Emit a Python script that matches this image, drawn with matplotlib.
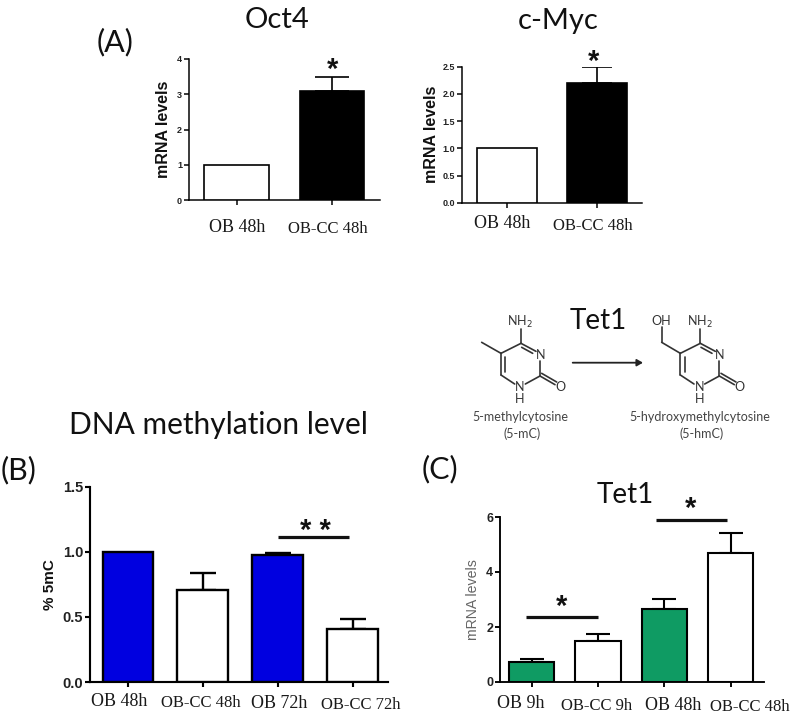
import matplotlib
matplotlib.use('Agg')
import matplotlib.pyplot as plt

W, H = 800, 717

oct4_labels = ['OB 48h', 'OB-CC 48h']
oct4_vals = [1.0, 3.08]
oct4_tops = [1.0, 3.5]
oct4_ticks = [0, 1, 2, 3, 4]
oct4_ticklabels = ['0', '1', '2', '3', '4']

myc_labels = ['OB 48h', 'OB-CC 48h']
myc_vals = [1.0, 2.2]
myc_tops = [1.0, 2.5]
myc_ticks = [0, 0.5, 1.0, 1.5, 2.0, 2.5]
myc_ticklabels = ['0.0', '0.5', '1.0', '1.5', '2.0', '2.5']

dna_labels = ['OB 48h', 'OB-CC 48h', 'OB 72h', 'OB-CC 72h']
dna_vals = [1.0, 0.71, 0.975, 0.41]
dna_tops = [1.0, 0.84, 0.99, 0.485]
dna_ticks = [0, 0.5, 1.0, 1.5]
dna_ticklabels = ['0.0', '0.5', '1.0', '1.5']

tet_labels = ['OB 9h', 'OB-CC 9h', 'OB 48h', 'OB-CC 48h']
tet_vals = [0.73, 1.5, 2.65, 4.7]
tet_tops = [0.85, 1.75, 3.03, 5.42]
tet_ticks = [0, 2, 4, 6]
tet_ticklabels = ['0', '2', '4', '6']

GREEN = '#0f9b63'
BLUE = '#0000e0'


def make_axes(fig, left, right, top, bottom):
    # pixel box to figure fractions
    return fig.add_axes([left / W, 1 - bottom / H, (right - left) / W, (bottom - top) / H])


def bar_panel(ax, vals, tops, colors, ticks, ticklabels, ymax, xlim, width, lw, cap,
              tick_size, ylabel, ylabel_size, ylabel_weight='bold', ylabel_color='#111111',
              labelpad=4):
    xs = list(range(len(vals)))
    ax.bar(xs, vals, width=width, color=colors, edgecolor='black', linewidth=lw, zorder=3)
    # bars with no spread have no whisker
    for x, v, t in zip(xs, vals, tops):
        if t > v:
            ax.errorbar([x], [v], yerr=[[0], [t - v]], fmt='none', ecolor='black',
                        elinewidth=lw, capsize=cap, capthick=lw, zorder=2)
    ax.set_xlim(*xlim)
    ax.set_ylim(0, ymax)
    ax.set_xticks(xs)
    ax.set_xticklabels([])
    ax.set_yticks(ticks)
    ax.set_yticklabels(ticklabels, fontsize=tick_size, fontweight='bold',
                       family='Liberation Sans', color='#222222')
    ax.tick_params(width=lw * 0.9, length=3.5, pad=1.5)
    for s in ['top', 'right']:
        ax.spines[s].set_visible(False)
    for s in ['left', 'bottom']:
        ax.spines[s].set_linewidth(lw * 0.9)
    ax.set_ylabel(ylabel, fontsize=ylabel_size, fontweight=ylabel_weight,
                  family='Liberation Sans', color=ylabel_color, labelpad=labelpad)
    ax.patch.set_alpha(0)


def xlabels(ov, labels, xs, ys, sizes):
    for lab, x, y, s in zip(labels, xs, ys, sizes):
        ov.text(x, y, lab, family='Liberation Serif', fontsize=s, ha='center', va='center',
                color='#1a1a1a')


def title(ov, x, y, txt, size):
    ov.text(x, y, txt, family='Lato', fontsize=size, ha='center', va='center', color='#111111')


def star(ov, x, y, txt='*', size=21):
    ov.text(x, y, txt, family='Liberation Sans', fontsize=size, fontweight='bold',
            ha='center', va='center', color='#111111')


def draw_mol(ov, dx, hydroxy):
    # ring traced in zoom coordinates of the picture, 3x around (440, 290)
    def seg(x0, y0, x1, y1):
        ov.plot([440 + (x0 + dx) / 3, 440 + (x1 + dx) / 3],
                [290 + y0 / 3, 290 + y1 / 3], color='#333333', lw=1.2, solid_capstyle='round')

    def lab(x, y, s, size=9):
        ov.text(440 + (x + dx) / 3, 290 + y / 3, s, family='Lato', fontsize=size,
                ha='center', va='center', color='#333333')

    seg(243, 160, 288, 184)
    seg(245, 172, 278, 190)
    seg(300, 212, 300, 258)
    seg(300, 258, 256, 282)
    seg(224, 282, 183, 255)
    seg(183, 255, 183, 190)
    seg(196, 245, 196, 200)
    seg(183, 190, 243, 160)
    seg(243, 160, 243, 118)
    seg(300, 258, 345, 284)
    seg(305, 250, 350, 276)
    if hydroxy:
        seg(183, 190, 127, 157)
        seg(127, 157, 127, 112)
        lab(127, 92, 'OH')
    else:
        seg(183, 190, 125, 157)
    lab(241, 95, 'NH$_2$')
    lab(302, 195, 'N')
    lab(240, 290, 'N')
    lab(240, 328, 'H')
    lab(360, 291, 'O')


fig = plt.figure(figsize=(W / 100, H / 100), dpi=100, facecolor='white')

ax1 = make_axes(fig, 189, 380, 59, 200.3)
bar_panel(ax1, oct4_vals, oct4_tops, ['white', 'black'], oct4_ticks, oct4_ticklabels, 4,
          (-0.497, 1.5), 0.674, 1.2, 12, 6.5, 'mRNA levels', 11.5)

ax2 = make_axes(fig, 461.7, 641.7, 66.7, 202.7)
bar_panel(ax2, myc_vals, myc_tops, ['white', 'black'], myc_ticks, myc_ticklabels, 2.5,
          (-0.5, 1.5), 0.668, 1.2, 11, 6.5, 'mRNA levels', 11.5, labelpad=2)

ax3 = make_axes(fig, 90, 388, 486.7, 682)
bar_panel(ax3, dna_vals, dna_tops, [BLUE, 'white', BLUE, 'white'], dna_ticks, dna_ticklabels, 1.5,
          (-0.507, 3.47), 0.68, 1.7, 9.4, 10.5, '% 5mC', 11)

ax4 = make_axes(fig, 500, 764, 517, 682)
bar_panel(ax4, tet_vals, tet_tops, [GREEN, 'white', GREEN, 'white'], tet_ticks, tet_ticklabels, 6,
          (-0.477, 3.5), 0.68, 1.5, 8.3, 9, 'mRNA levels', 10.2, 'normal', '#666666')

# overlay in picture pixels for texts and annotations
ov = fig.add_axes([0, 0, 1, 1], zorder=10)
ov.set_xlim(0, W)
ov.set_ylim(H, 0)
ov.axis('off')

title(ov, 277, 20, 'Oct4', 21)
title(ov, 558, 21, 'c-Myc', 21)
title(ov, 218, 425, 'DNA methylation level', 21.5)
title(ov, 625, 495, 'Tet1', 20)
title(ov, 598, 321, 'Tet1', 20)
title(ov, 115, 42, '(A)', 22)
title(ov, 19, 470, '(B)', 22)
title(ov, 440, 469, '(C)', 22)

xlabels(ov, oct4_labels, [236.7, 328], [228, 229], [13, 12])
xlabels(ov, myc_labels, [502, 593], [224, 226], [13, 12])
xlabels(ov, dna_labels, [119, 200.7, 279, 361], [702, 703, 703, 705], [13, 12, 13, 12])
xlabels(ov, tet_labels, [521, 597, 673, 750], [704, 706, 705, 707], [13, 12, 13, 12])

star(ov, 333, 70)
star(ov, 594, 62)
star(ov, 315, 531, '* *')
star(ov, 562, 607)
star(ov, 691, 509)

for x0, x1, y in [(278, 349, 537), (526, 598, 617), (656, 727, 520)]:
    ov.plot([x0, x1], [y, y], color='#111111', lw=2.3, solid_capstyle='butt')

draw_mol(ov, 0, False)
draw_mol(ov, 538, True)
ov.annotate('', xy=(643, 362.7), xytext=(572.7, 362.7),
            arrowprops=dict(arrowstyle='-|>,head_length=0.35,head_width=0.2', color='#222222', lw=1.3,
                            shrinkA=0, shrinkB=0))
for x, y, s in [(520, 417, '5-methylcytosine'), (522, 434, '(5-mC)'),
                (700, 417, '5-hydroxymethylcytosine'), (702, 434, '(5-hmC)')]:
    ov.text(x, y, s, family='Lato', fontsize=9, ha='center', va='center', color='#444444')

ov.set_xlim(0, W)
ov.set_ylim(H, 0)
fig.savefig('out.png', dpi=100)
